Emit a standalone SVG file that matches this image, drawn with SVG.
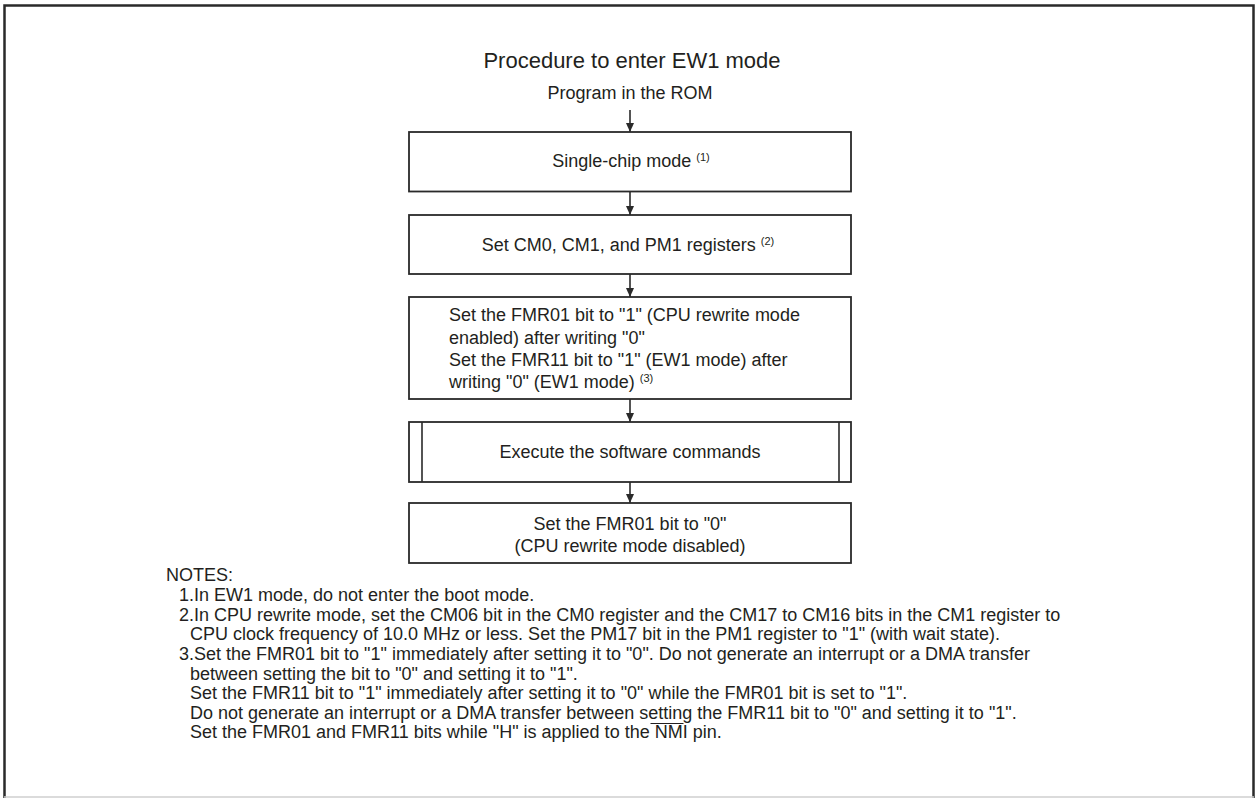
<svg xmlns="http://www.w3.org/2000/svg" width="1257" height="798" viewBox="0 0 1257 798">
<style>
text{font-family:"Liberation Sans",Arial,sans-serif;fill:#231f20;font-size:18px}
.box{fill:#fff;stroke:#2a2a2a;stroke-width:1.8}
.c{text-anchor:middle}
.sup{font-size:11px}
.conn line{stroke:#2a2a2a;stroke-width:1.6}
</style>
<defs>
<marker id="ah" markerUnits="userSpaceOnUse" markerWidth="10" markerHeight="8" refX="9" refY="4" orient="auto">
<path d="M0,0 L9,4 L0,8 Z" fill="#2a2a2a"/>
</marker>
</defs>
<rect width="1257" height="798" fill="#fff"/>
<path d="M4.5,800 L4.5,5.5 L1253.5,5.5 L1253.5,800" fill="none" stroke="#2a2a2a" stroke-width="2.5"/>
<line x1="4" y1="797" x2="1254" y2="797" stroke="#cfcfcf" stroke-width="1.5"/>

<text id="title" class="c" x="632" y="68" style="font-size:22px">Procedure to enter EW1 mode</text>
<g id="start"><text class="c" x="630" y="99">Program in the ROM</text></g>

<g class="conn" id="connectors">
<line x1="630" y1="110" x2="630" y2="132" marker-end="url(#ah)"/>
<line x1="630" y1="192" x2="630" y2="215" marker-end="url(#ah)"/>
<line x1="630" y1="274" x2="630" y2="297" marker-end="url(#ah)"/>
<line x1="630" y1="399" x2="630" y2="422" marker-end="url(#ah)"/>
<line x1="630" y1="482" x2="630" y2="503" marker-end="url(#ah)"/>
</g>

<g id="n1"><rect class="box" x="409" y="132" width="442" height="59.5"/>
<text class="c" x="631" y="167">Single-chip mode <tspan class="sup" dy="-6">(1)</tspan></text></g>

<g id="n2"><rect class="box" x="409" y="215" width="442" height="59"/>
<text class="c" x="628" y="251">Set CM0, CM1, and PM1 registers <tspan class="sup" dy="-6">(2)</tspan></text></g>

<g id="n3"><rect class="box" x="409" y="297" width="442" height="102"/>
<text x="449" y="321">Set the FMR01 bit to "1" (CPU rewrite mode</text>
<text x="449" y="343.5">enabled) after writing "0"</text>
<text x="449" y="366">Set the FMR11 bit to "1" (EW1 mode) after</text>
<text x="449" y="388">writing "0" (EW1 mode) <tspan class="sup" dy="-6">(3)</tspan></text></g>

<g id="n4"><rect class="box" x="409" y="422" width="442" height="60"/>
<line x1="422" y1="422" x2="422" y2="482" stroke="#2a2a2a" stroke-width="1.6"/>
<line x1="839" y1="422" x2="839" y2="482" stroke="#2a2a2a" stroke-width="1.6"/>
<text class="c" x="630" y="458">Execute the software commands</text></g>

<g id="n5"><rect class="box" x="409" y="503" width="442" height="60"/>
<text class="c" x="630" y="530">Set the FMR01 bit to "0"</text>
<text class="c" x="630" y="552">(CPU rewrite mode disabled)</text></g>

<g id="notes">
<text x="166" y="581">NOTES:</text>
<text x="179" y="601">1.In EW1 mode, do not enter the boot mode.</text>
<text x="179" y="620.5">2.In CPU rewrite mode, set the CM06 bit in the CM0 register and the CM17 to CM16 bits in the CM1 register to</text>
<text x="190" y="640">CPU clock frequency of 10.0 MHz or less. Set the PM17 bit in the PM1 register to "1" (with wait state).</text>
<text x="179" y="660">3.Set the FMR01 bit to "1" immediately after setting it to "0". Do not generate an interrupt or a DMA transfer</text>
<text x="190" y="679.5">between setting the bit to "0" and setting it to "1".</text>
<text x="190" y="699">Set the FMR11 bit to "1" immediately after setting it to "0" while the FMR01 bit is set to "1".</text>
<text x="190" y="718.5">Do not generate an interrupt or a DMA transfer between setting the FMR11 bit to "0" and setting it to "1".</text>
<text x="190" y="738">Set the FMR01 and FMR11 bits while "H" is applied to the NMI pin.</text>
<line x1="650.5" y1="723.5" x2="683.5" y2="723.5" stroke="#231f20" stroke-width="1.1"/>
</g>
</svg>
